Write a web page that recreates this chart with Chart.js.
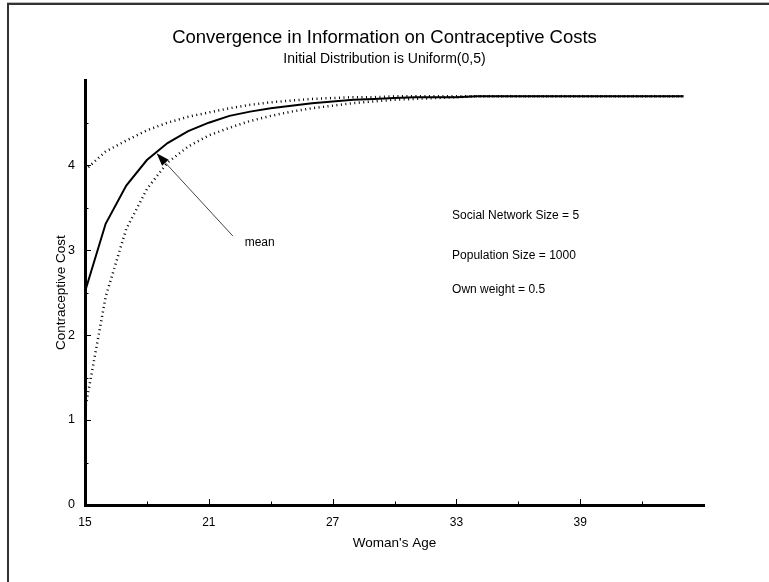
<!DOCTYPE html>
<html>
<head>
<meta charset="utf-8">
<title>Convergence in Information on Contraceptive Costs</title>
<script src="https://cdn.jsdelivr.net/npm/chart.js@4/dist/chart.umd.min.js"></script>
<style>
    html, body { margin: 0; padding: 0; background: #fff; }
    #wrap { position: relative; width: 769px; height: 582px; overflow: hidden; }
    #frame {
        position: absolute; left: 7px; top: 3px; width: 800px; height: 600px;
        border-left: 2px solid #333; border-top: 2px solid #333;
        box-shadow: 0 -1px 0 #bbb; pointer-events: none;
    }
</style>
</head>
<body>
<div id="wrap">
    <canvas id="costChart" width="769" height="582"></canvas>
    <div id="frame"></div>
</div>
<script>
// Woman's age (years) and contraceptive cost estimates
const ages = [15, 16, 17, 18, 19, 20, 21, 22, 23, 24, 25, 26, 27, 28, 29,
              30, 31, 32, 33, 34, 35, 36, 37, 38, 39, 40, 41, 42, 43, 44];
const meanCost = [2.51, 3.31, 3.76, 4.06, 4.26, 4.40, 4.50, 4.58, 4.63, 4.67, 4.70, 4.73, 4.75, 4.77, 4.78,
                  4.79, 4.80, 4.80, 4.80, 4.81, 4.81, 4.81, 4.81, 4.81, 4.81, 4.81, 4.81, 4.81, 4.81, 4.81];
const upperCost = [3.94, 4.16, 4.29, 4.41, 4.50, 4.57, 4.62, 4.67, 4.71, 4.74, 4.76, 4.78, 4.79, 4.80, 4.80,
                   4.81, 4.81, 4.81, 4.81, 4.81, 4.81, 4.81, 4.81, 4.81, 4.81, 4.81, 4.81, 4.81, 4.81, 4.81];
const lowerCost = [1.12, 2.45, 3.25, 3.72, 4.03, 4.22, 4.35, 4.44, 4.52, 4.58, 4.63, 4.67, 4.70, 4.73, 4.75,
                   4.77, 4.78, 4.79, 4.80, 4.81, 4.81, 4.81, 4.81, 4.81, 4.81, 4.81, 4.81, 4.81, 4.81, 4.81];

// Axis ticks
const xTickValues = [15, 21, 27, 33, 39];
const xMinorTicks = [18, 24, 30, 36, 42];
const yTickValues = [0, 1, 2, 3, 4];
const yMinorTicks = [0.5, 1.5, 2.5, 3.5, 4.5];

// Annotations (data coordinates)
const meanLabel = { text: 'mean', age: 22.74, cost: 3.09 };
const meanArrow = { fromAge: 22.17, fromCost: 3.165, toAge: 18.47, toCost: 4.14 };
const notes = ['Social Network Size = 5', 'Population Size = 1000', 'Own weight = 0.5'];
const noteAge = 32.79;
const noteCosts = [3.41, 2.94, 2.53];

const toPoints = vals => ages.map((a, i) => ({ x: a, y: vals[i] }));

Chart.defaults.font.family = "'Liberation Sans', Arial, sans-serif";
Chart.defaults.color = '#000';

// Inside tick marks, arrow and text notes
const extrasPlugin = {
    id: 'extras',
    afterDatasetsDraw(chart) {
        const { ctx } = chart;
        const xs = chart.scales.x;
        const ys = chart.scales.y;
        const x0 = xs.getPixelForValue(15);
        const y0 = ys.getPixelForValue(0);
        ctx.save();
        ctx.strokeStyle = '#000';
        ctx.lineWidth = 1;
        ctx.beginPath();
        xTickValues.slice(1).forEach(v => {
            const px = Math.round(xs.getPixelForValue(v)) + 0.5;
            ctx.moveTo(px, y0); ctx.lineTo(px, y0 - 6);
        });
        xMinorTicks.forEach(v => {
            const px = Math.round(xs.getPixelForValue(v)) + 0.5;
            ctx.moveTo(px, y0); ctx.lineTo(px, y0 - 3.5);
        });
        yTickValues.slice(1).forEach(v => {
            const py = Math.round(ys.getPixelForValue(v)) + 0.5;
            ctx.moveTo(x0, py); ctx.lineTo(x0 + 6, py);
        });
        yMinorTicks.forEach(v => {
            const py = Math.round(ys.getPixelForValue(v)) + 0.5;
            ctx.moveTo(x0, py); ctx.lineTo(x0 + 3.5, py);
        });
        ctx.stroke();

        // arrow pointing at the mean curve
        const ax1 = xs.getPixelForValue(meanArrow.fromAge), ay1 = ys.getPixelForValue(meanArrow.fromCost);
        const ax2 = xs.getPixelForValue(meanArrow.toAge), ay2 = ys.getPixelForValue(meanArrow.toCost);
        const ang = Math.atan2(ay2 - ay1, ax2 - ax1);
        const headLen = 13, headW = 4.5;
        const bx = ax2 - headLen * Math.cos(ang), by = ay2 - headLen * Math.sin(ang);
        ctx.strokeStyle = '#444';
        ctx.beginPath();
        ctx.moveTo(ax1, ay1); ctx.lineTo(bx, by);
        ctx.stroke();
        ctx.fillStyle = '#000';
        ctx.beginPath();
        ctx.moveTo(ax2, ay2);
        ctx.lineTo(bx + headW * Math.sin(ang), by - headW * Math.cos(ang));
        ctx.lineTo(bx - headW * Math.sin(ang), by + headW * Math.cos(ang));
        ctx.closePath();
        ctx.fill();

        ctx.font = "12px 'Liberation Sans', Arial, sans-serif";
        ctx.textAlign = 'left';
        ctx.textBaseline = 'middle';
        ctx.fillText(meanLabel.text, xs.getPixelForValue(meanLabel.age), ys.getPixelForValue(meanLabel.cost));
        notes.forEach((t, i) => {
            ctx.fillText(t, xs.getPixelForValue(noteAge), ys.getPixelForValue(noteCosts[i]));
        });
        ctx.restore();
    }
};

const dotted = {
    borderColor: '#000',
    borderWidth: 2.5,
    borderDash: [1, 3.5],
    pointRadius: 0,
    fill: false,
    tension: 0
};

new Chart(document.getElementById('costChart').getContext('2d'), {
    type: 'line',
    data: {
        datasets: [
            { ...dotted, label: 'Upper', data: toPoints(upperCost) },
            { ...dotted, label: 'Lower', data: toPoints(lowerCost) },
            {
                label: 'Mean',
                data: toPoints(meanCost),
                borderColor: '#000',
                borderWidth: 2,
                pointRadius: 0,
                fill: false,
                tension: 0
            }
        ]
    },
    options: {
        responsive: false,
        animation: false,
        layout: { padding: 0 },
        plugins: {
            legend: { display: false },
            tooltip: { enabled: false },
            title: {
                display: true,
                text: 'Convergence in Information on Contraceptive Costs',
                font: { size: 18.5, weight: 'normal' },
                color: '#000',
                padding: { top: 26.5, bottom: 0 }
            },
            subtitle: {
                display: true,
                text: 'Initial Distribution is Uniform(0,5)',
                font: { size: 14, weight: 'normal' },
                color: '#000',
                padding: { top: 2, bottom: 12.7 }
            }
        },
        scales: {
            x: {
                type: 'linear',
                min: 15,
                max: 45,
                afterBuildTicks: s => { s.ticks = xTickValues.map(v => ({ value: v })); },
                afterFit: s => { s.height = 77; },
                grid: { display: false, drawTicks: false },
                border: { display: true, color: '#000', width: 3 },
                ticks: { padding: 10, font: { size: 12 }, color: '#000', maxRotation: 0, autoSkip: false },
                title: {
                    display: true,
                    text: "Woman's Age",
                    font: { size: 13.5 },
                    color: '#000',
                    padding: { top: 0, bottom: 31 }
                }
            },
            y: {
                min: 0,
                max: 5,
                afterBuildTicks: s => { s.ticks = yTickValues.map(v => ({ value: v })); },
                afterFit: s => { s.width = 85; },
                grid: { display: false, drawTicks: false },
                border: { display: true, color: '#000', width: 3 },
                ticks: { padding: 10, font: { size: 12.5 }, color: '#000' },
                title: {
                    display: true,
                    text: 'Contraceptive Cost',
                    font: { size: 13.5 },
                    color: '#000',
                    padding: { top: 53, bottom: 0 }
                }
            },
            // empty right-hand axis that only reserves the right margin
            yRight: {
                position: 'right',
                min: 0,
                max: 5,
                afterFit: s => { s.width = 65; },
                grid: { display: false, drawTicks: false },
                border: { display: false },
                ticks: { display: false }
            }
        }
    },
    plugins: [extrasPlugin]
});
</script>
</body>
</html>
